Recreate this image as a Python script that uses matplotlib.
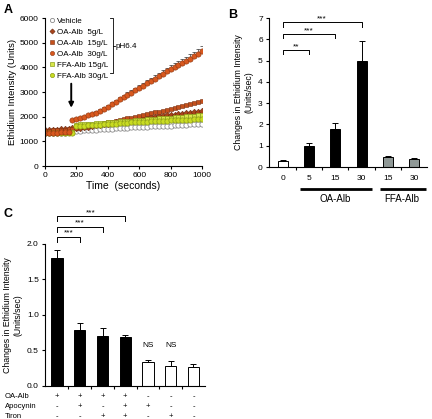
import numpy as np
import matplotlib
matplotlib.use('Agg')
import matplotlib.pyplot as plt
from matplotlib.lines import Line2D

plt.rcParams['font.family'] = ['Liberation Sans', 'DejaVu Sans']

# ---------------- data: panel A (time course) ----------------
time_s = list(range(0, 1001, 25))
vehicle = [1330, 1334, 1340, 1345, 1350, 1356, 1362, 1370, 1420, 1430, 1440, 1450, 1462, 1472,
           1485, 1495, 1505, 1515, 1525, 1535, 1545, 1553, 1562, 1570, 1580, 1588, 1595, 1603,
           1610, 1618, 1626, 1634, 1641, 1650, 1658, 1666, 1675, 1684, 1694, 1705, 1715]
oa_5 = [1440, 1450, 1460, 1472, 1485, 1498, 1510, 1522,
        1535, 1555, 1577, 1598, 1620, 1645, 1670, 1695, 1720, 1745, 1770, 1795, 1820,
        1845, 1870, 1895, 1920, 1940, 1960, 1980, 2000, 2018, 2035, 2052, 2070,
        2088, 2105, 2122, 2140, 2157, 2175, 2192, 2210]
oa_15 = [1420, 1430, 1440, 1452, 1465, 1478, 1492, 1510,
         1540, 1567, 1595, 1622, 1650, 1680, 1710, 1740, 1770, 1802, 1835, 1868, 1900,
         1932, 1965, 1998, 2030, 2065, 2100, 2135, 2170, 2207, 2245, 2282, 2320,
         2360, 2400, 2440, 2480, 2522, 2565, 2608, 2650]
oa_30 = [1340, 1345, 1350, 1355, 1360, 1365, 1370,
         1850, 1920, 1960, 2000, 2050, 2100, 2160, 2230, 2320, 2400, 2500, 2600, 2700, 2800,
         2890, 2980, 3070, 3160, 3250, 3350, 3440, 3540, 3640, 3740, 3840, 3940,
         4020, 4100, 4180, 4260, 4350, 4450, 4550, 4650]
oa_30_err = [20, 20, 20, 20, 20, 20, 20, 40, 40, 45, 45, 50, 55, 60, 65, 70, 75, 80, 85, 90, 95,
             100, 105, 110, 115, 120, 125, 130, 135, 140, 145, 150, 155, 160, 165, 170, 175,
             180, 185, 190, 200]
ffa_15 = [1345, 1347, 1350, 1352, 1355, 1358, 1360, 1365,
          1680, 1690, 1700, 1710, 1720, 1732, 1745, 1758, 1770, 1782, 1795, 1808, 1820,
          1832, 1845, 1858, 1870, 1882, 1895, 1908, 1920, 1931, 1942, 1954, 1965,
          1976, 1988, 1999, 2010, 2022, 2035, 2048, 2060]
ffa_30 = [1335, 1337, 1340, 1342, 1345, 1348, 1350, 1355,
          1620, 1630, 1640, 1650, 1660, 1670, 1680, 1690, 1700, 1711, 1722, 1734, 1745,
          1755, 1765, 1775, 1785, 1794, 1803, 1812, 1820, 1828, 1835, 1842, 1850,
          1856, 1862, 1869, 1875, 1881, 1888, 1894, 1900]

# ---------------- data: panel B ----------------
b_labels = ['0', '5', '15', '30', '15', '30']
b_values = [0.28, 1.0, 1.8, 5.0, 0.48, 0.37]
b_err = [0.03, 0.15, 0.25, 0.9, 0.05, 0.04]
b_colors = ['white', 'black', 'black', 'black', '#8f9896', '#8f9896']

# ---------------- data: panel C ----------------
c_values = [1.80, 0.79, 0.70, 0.69, 0.34, 0.28, 0.27]
c_err = [0.12, 0.09, 0.12, 0.03, 0.02, 0.07, 0.04]
c_colors = ['black'] * 4 + ['white'] * 3
c_rows = ['OA-Alb', 'Apocynin', 'Tiron']
c_signs = [['+', '+', '+', '+', '-', '-', '-'],
           ['-', '+', '-', '+', '+', '-', '-'],
           ['-', '-', '+', '+', '-', '+', '-']]

fig = plt.figure(figsize=(4.32, 4.19), dpi=100)


def style_axes(ax):
    ax.spines['top'].set_visible(False)
    ax.spines['right'].set_visible(False)
    ax.tick_params(direction='out', length=2.5, width=0.8, labelsize=6, pad=2)


def bracket(ax, x0, x1, y, drop, text, fs=6):
    ax.plot([x0, x0, x1, x1], [y - drop, y, y, y - drop], color='black', lw=0.7, clip_on=False)
    ax.text((x0 + x1) / 2, y, text, ha='center', va='bottom', fontsize=fs)


# ---------------- panel A ----------------
axA = fig.add_axes([0.1042, 0.6038, 0.3634, 0.3532])
style_axes(axA)
ms = 3.8
axA.plot(time_s, vehicle, 'o', ms=ms, mfc='white', mec='#8a8a8a', mew=0.6, label='Vehicle')
axA.plot(time_s, oa_5, 'D', ms=ms - 0.5, mfc='#a8431a', mec='#6b2a10', mew=0.4, label='OA-Alb  5g/L')
axA.plot(time_s, oa_15, 's', ms=ms - 0.3, mfc='#c4501c', mec='#7a3010', mew=0.4, label='OA-Alb  15g/L')
axA.plot(time_s, ffa_15, 's', ms=ms - 0.3, mfc='#d7e64a', mec='#8ca01a', mew=0.5, label='FFA-Alb 15g/L')
axA.plot(time_s, ffa_30, 'o', ms=ms, mfc='#c9dc22', mec='#8a9a18', mew=0.5, label='FFA-Alb 30g/L')
axA.errorbar(time_s, oa_30, yerr=[np.zeros(len(oa_30_err)), oa_30_err], fmt='none',
             ecolor='#333333', elinewidth=0.5, capsize=1.2, capthick=0.5)
axA.plot(time_s, oa_30, 'o', ms=ms, mfc='#d8581e', mec='#8a3510', mew=0.4, label='OA-Alb  30g/L')
axA.set_xlim(0, 1000)
axA.set_ylim(0, 6000)
axA.set_xticks(range(0, 1001, 200))
axA.set_yticks(range(0, 6001, 1000))
axA.set_xlabel('Time  (seconds)', fontsize=7.5, labelpad=1)
axA.set_ylabel('Ethidium Intensity (Units)', fontsize=6.8, labelpad=2)
h, l = axA.get_legend_handles_labels()
order = [0, 1, 2, 5, 3, 4]
leg = axA.legend([h[i] for i in order], [l[i] for i in order], loc='upper left',
                 bbox_to_anchor=(0.0, 1.04), frameon=False, fontsize=5.8, handlelength=0.6,
                 handletextpad=0.3, labelspacing=0.42, borderaxespad=0.2, markerscale=0.8)
bx = 0.433
axA.add_line(Line2D([bx - 0.02, bx, bx, bx - 0.02], [1.0, 1.0, 0.628, 0.628],
                    transform=axA.transAxes, color='black', lw=0.6, clip_on=False))
axA.add_line(Line2D([bx, bx + 0.015], [0.81, 0.81], transform=axA.transAxes,
                    color='black', lw=0.6, clip_on=False))
axA.text(bx + 0.015, 0.81, 'pH6.4', transform=axA.transAxes, fontsize=5.8, va='center')
axA.annotate('', xy=(167, 2250), xytext=(167, 3450),
             arrowprops=dict(arrowstyle='-|>', color='black', lw=1.4, mutation_scale=7))

# ---------------- panel B ----------------
axB = fig.add_axes([0.6227, 0.6014, 0.366, 0.3556])
style_axes(axB)
xb = np.arange(len(b_values))
axB.bar(xb, b_values, width=0.38, color=b_colors, edgecolor='black', linewidth=0.7,
        yerr=[np.zeros(len(b_err)), b_err], error_kw=dict(elinewidth=0.7, capsize=2, capthick=0.7))
axB.set_xlim(-0.53, 5.5)
axB.set_ylim(0, 7)
axB.set_yticks(range(0, 8))
axB.set_xticks(xb)
axB.set_xticklabels(b_labels)
axB.tick_params(axis='x', length=0, pad=6)
axB.set_xticks(xb[:-1] + 0.5, minor=True)
axB.tick_params(axis='x', which='minor', direction='out', length=2.5, width=0.8)
axB.set_ylabel('Changes in Ethidium Intensity\n(Units/sec)', fontsize=6.3, labelpad=3)
bracket(axB, 0, 1, 5.5, 0.2, '**')
bracket(axB, 0, 2, 6.25, 0.2, '***')
bracket(axB, 0, 3, 6.8, 0.2, '***')
axB.plot([0.65, 3.4], [-1.05, -1.05], color='black', lw=2, clip_on=False, solid_capstyle='butt')
axB.plot([3.7, 5.45], [-1.05, -1.05], color='black', lw=2, clip_on=False, solid_capstyle='butt')
axB.text(2.0, -1.25, 'OA-Alb', ha='center', va='top', fontsize=7)
axB.text(4.55, -1.25, 'FFA-Alb', ha='center', va='top', fontsize=7)

# ---------------- panel C ----------------
axC = fig.add_axes([0.1042, 0.0788, 0.370, 0.339])
style_axes(axC)
xc = np.arange(len(c_values))
axC.bar(xc, c_values, width=0.5, color=c_colors, edgecolor='black', linewidth=0.7,
        yerr=[np.zeros(len(c_err)), c_err], error_kw=dict(elinewidth=0.7, capsize=2, capthick=0.7))
axC.set_xlim(-0.53, 6.5)
axC.set_ylim(0, 2.0)
axC.set_yticks([0.0, 0.5, 1.0, 1.5, 2.0])
axC.set_yticklabels(['0.0', '0.5', '1.0', '1.5', '2.0'])
axC.set_xticks(xc[:-1] + 0.5)
axC.set_xticklabels([])
axC.set_ylabel('Changes in Ethidium Intensity\n(Units/sec)', fontsize=6.3, labelpad=3)
bracket(axC, 0, 1, 2.1, 0.07, '***')
bracket(axC, 0, 2, 2.245, 0.07, '***')
bracket(axC, 0, 3, 2.39, 0.07, '***')
axC.text(4, 0.52, 'NS', ha='center', va='bottom', fontsize=6)
axC.text(5, 0.52, 'NS', ha='center', va='bottom', fontsize=6)
for r, (name, signs) in enumerate(zip(c_rows, c_signs)):
    yy = -0.15 - r * 0.14
    axC.text(-2.29, yy, name, ha='left', va='center', fontsize=5.5, clip_on=False)
    for i, s in enumerate(signs):
        axC.text(xc[i], yy, s, ha='center', va='center', fontsize=5.5)

# panel letters
fig.text(0.008, 0.975, 'A', fontsize=9, fontweight='bold', va='center')
fig.text(0.527, 0.965, 'B', fontsize=9, fontweight='bold', va='center')
fig.text(0.008, 0.49, 'C', fontsize=9, fontweight='bold', va='center')

fig.savefig('out.png', dpi=100)
